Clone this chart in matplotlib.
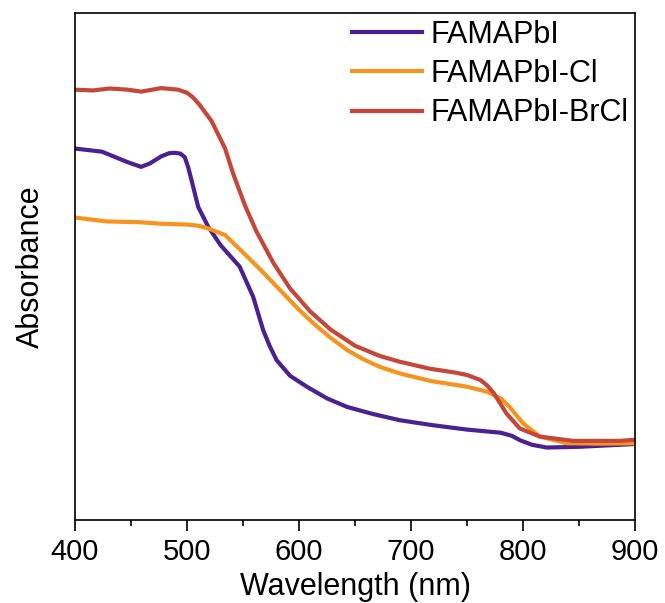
import numpy as np
import matplotlib
matplotlib.use('Agg')
import matplotlib.pyplot as plt
from matplotlib.ticker import MultipleLocator

plt.rcParams['font.family'] = ['Liberation Sans', 'DejaVu Sans']

# absorption spectra (arb. units)
wl_pbi = [400, 424, 447, 459, 467, 477, 484, 489, 494, 498, 501, 504, 510, 519, 530, 547, 559,
          568, 574, 580, 592, 607, 625, 643, 666, 690, 720, 750, 780, 790, 797, 808, 821, 851, 900]
abs_pbi = [0.953, 0.945, 0.918, 0.906, 0.915, 0.933, 0.941, 0.942, 0.940, 0.931, 0.905, 0.872,
           0.803, 0.752, 0.705, 0.650, 0.573, 0.487, 0.445, 0.410, 0.370, 0.342, 0.312, 0.290,
           0.272, 0.256, 0.243, 0.232, 0.224, 0.216, 0.205, 0.193, 0.186, 0.188, 0.195]

wl_cl = [400, 428, 458, 477, 500, 510, 519, 534, 553, 568, 583, 598, 613, 628, 643, 657, 672,
         690, 717, 750, 768, 780, 788, 800, 815, 839, 870, 900]
abs_cl = [0.776, 0.766, 0.764, 0.760, 0.758, 0.755, 0.748, 0.731, 0.678, 0.635, 0.590, 0.545,
          0.504, 0.468, 0.436, 0.413, 0.393, 0.376, 0.357, 0.342, 0.329, 0.312, 0.290, 0.248,
          0.214, 0.197, 0.196, 0.197]

wl_brcl = [400, 416, 431, 447, 459, 477, 492, 500, 505, 511, 522, 534, 541, 552, 562, 577, 592,
           610, 628, 650, 672, 690, 717, 740, 750, 762, 768, 774, 785, 797, 815, 845, 870, 886, 900]
abs_brcl = [1.104, 1.102, 1.107, 1.104, 1.099, 1.108, 1.104, 1.096, 1.085, 1.066, 1.023, 0.953,
            0.890, 0.805, 0.740, 0.660, 0.594, 0.535, 0.489, 0.447, 0.421, 0.406, 0.388, 0.378,
            0.372, 0.359, 0.345, 0.325, 0.274, 0.235, 0.214, 0.203, 0.203, 0.203, 0.206]

fig = plt.figure(figsize=(6.65, 6.03), dpi=100)
ax = fig.add_axes([0.1128, 0.1376, 0.8422, 0.8404])

ax.plot(wl_pbi, abs_pbi, color='#4a2190', lw=3, label='FAMAPbI')
ax.plot(wl_cl, abs_cl, color='#f7941d', lw=3, label='FAMAPbI-Cl')
ax.plot(wl_brcl, abs_brcl, color='#c4473a', lw=3, label='FAMAPbI-BrCl')

ax.set_xlim(400, 900)
ax.set_ylim(0, 1.3)
ax.set_yticks([])
ax.xaxis.set_major_locator(MultipleLocator(100))
ax.xaxis.set_minor_locator(MultipleLocator(50))
ax.tick_params(axis='x', which='major', length=8, width=1.2, labelsize=21, pad=5)
ax.tick_params(axis='x', which='minor', length=4, width=1.2)
for s in ax.spines.values():
    s.set_linewidth(1.2)

ax.set_xlabel('Wavelength (nm)', fontsize=22, labelpad=4)
ax.set_ylabel('Absorbance', fontsize=22, labelpad=21)

ax.legend(loc='upper right', frameon=False, fontsize=22, handlelength=2.3,
          handletextpad=0.28, labelspacing=0.3, borderaxespad=0.0, borderpad=0.22)

fig.savefig('out.png', dpi=100)
